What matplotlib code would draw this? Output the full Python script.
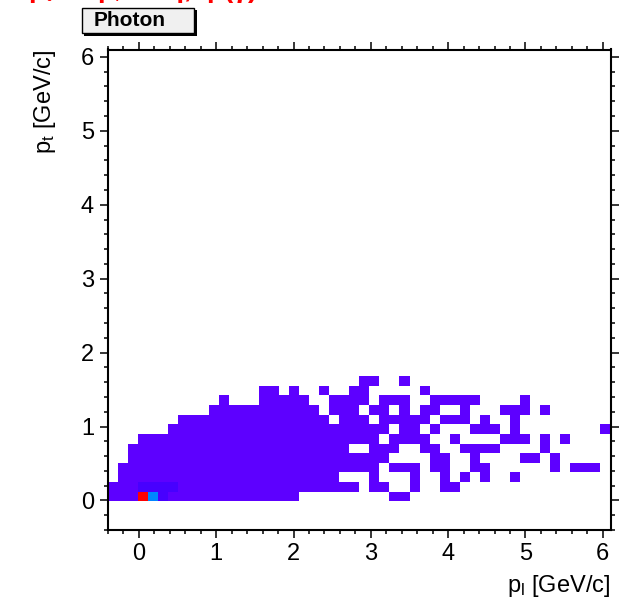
import colorsys
import numpy as np
import matplotlib
matplotlib.use("Agg")
import matplotlib.pyplot as plt
from matplotlib.colors import ListedColormap
from matplotlib.patches import Rectangle
from matplotlib.ticker import MultipleLocator

plt.rcParams['font.family'] = ['Liberation Sans', 'DejaVu Sans']
plt.rcParams['mathtext.fontset'] = 'custom'
plt.rcParams['mathtext.rm'] = 'Liberation Sans'
plt.rcParams['mathtext.it'] = 'Liberation Sans:italic'
plt.rcParams['mathtext.bf'] = 'Liberation Sans:bold'

# histogram binning (same for both axes)
n_bins = 50
lo, hi = -0.4, 6.1

# filled bins per y-bin row: (first x-bin, last x-bin) inclusive, count = 1
row_index = [3, 4, 5, 6, 7, 8, 9, 10, 11, 12, 13, 14, 15]
row_spans = [
    [(0, 18), (28, 29)],
    [(0, 24), (26, 27), (30, 30), (33, 34)],
    [(1, 22), (26, 26), (30, 30), (33, 33), (35, 35), (37, 37), (40, 40)],
    [(1, 26), (28, 30), (32, 33), (36, 37), (44, 44), (46, 48)],
    [(2, 27), (32, 33), (36, 36), (41, 42), (44, 44)],
    [(2, 23), (26, 28), (31, 32), (35, 38), (43, 43)],
    [(3, 26), (28, 31), (34, 34), (39, 41), (43, 43), (45, 45)],
    [(6, 27), (29, 30), (32, 32), (36, 38), (40, 40), (49, 49)],
    [(7, 21), (23, 25), (27, 31), (33, 35), (37, 37), (40, 40)],
    [(10, 20), (22, 24), (26, 27), (29, 29), (31, 32), (35, 35), (39, 41), (43, 43)],
    [(11, 11), (15, 19), (22, 25), (27, 29), (32, 36), (41, 41)],
    [(15, 16), (18, 18), (21, 21), (24, 25), (31, 31)],
    [(25, 26), (29, 29)],
]
# higher-count bins near the origin: (x-bin, y-bin, count)
peak_bins = [(3, 3, 60), (4, 3, 13), (5, 3, 3),
             (3, 4, 3), (4, 4, 3), (5, 4, 3), (6, 4, 3)]

counts = np.zeros((n_bins, n_bins))
for j, spans in zip(row_index, row_spans):
    for a, b in spans:
        counts[j, a:b + 1] = 1
for i, j, c in peak_bins:
    counts[j, i] = c

edges = np.linspace(lo, hi, n_bins + 1)

# ROOT-like rainbow palette: violet -> blue -> cyan -> green -> yellow -> red
pal = [colorsys.hsv_to_rgb((262 - 262 * k / 49) / 360, 1, 1) for k in range(50)]
cmap = ListedColormap(pal)

fig = plt.figure(figsize=(6.22, 5.99), dpi=100, facecolor='white')
ax = fig.add_axes([108 / 622, (599 - 530) / 599, 502.5 / 622, 480.5 / 599])

ax.pcolormesh(edges, edges, np.ma.masked_equal(counts, 0), cmap=cmap,
              vmin=1, vmax=60)

ax.set_xlim(lo, hi)
ax.set_ylim(lo, hi)
ax.xaxis.set_major_locator(MultipleLocator(1))
ax.yaxis.set_major_locator(MultipleLocator(1))
ax.xaxis.set_minor_locator(MultipleLocator(0.2))
ax.yaxis.set_minor_locator(MultipleLocator(0.2))
ax.tick_params(which='both', direction='out', top=True, right=True,
               labeltop=False, labelright=False, width=1.1, color='black')
ax.tick_params(which='major', length=6, labelsize=17, pad=3)
ax.tick_params(which='minor', length=3)
ax.tick_params(axis='y', which='major', pad=4)
for s in ax.spines.values():
    s.set_linewidth(1.5)

ax.set_xlabel(r'p$_{\rm l}$ [GeV/c]', fontsize=17, loc='right')
ax.xaxis.set_label_coords(1.0, -0.09)
ax.set_ylabel(r'p$_{\rm t}$ [GeV/c]', fontsize=17, loc='top')
ax.yaxis.set_label_coords(-0.1, 1.0)

# red title, clipped at the top edge
fig.text(28 / 622, 1 + 3 / 599, r'p$_{\rm t}$ vs p$_{\rm l}$ vs η,  p(γ)',
         color='red', fontsize=20, fontweight='bold', va='baseline', ha='left')

# "Photon" box with shadow
bx, by, bw, bh = 82 / 622, 1 - 33 / 599, 112 / 622, 25 / 599
fig.patches.append(Rectangle((bx + 2.5 / 622, by - 2.5 / 599), bw, bh,
                             transform=fig.transFigure, facecolor='black',
                             edgecolor='none', zorder=1))
fig.patches.append(Rectangle((bx, by), bw, bh, transform=fig.transFigure,
                             facecolor='#f0f0f0', edgecolor='black',
                             linewidth=1.0, zorder=2))
fig.text(94 / 622, 1 - 20 / 599, 'Photon', fontsize=15, fontweight='bold',
         va='center', ha='left', zorder=3)

fig.savefig('out.png', dpi=100)
